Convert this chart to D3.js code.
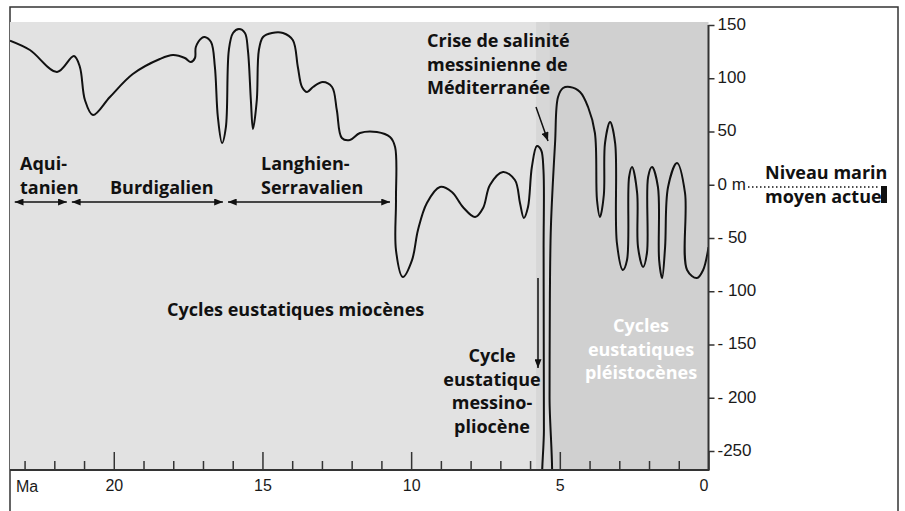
<!DOCTYPE html>
<html>
<head>
<meta charset="utf-8">
<script src="https://cdn.jsdelivr.net/npm/d3@7"></script>
<style>
body { margin: 0; background: #fff; }
svg { display: block; }
.lab { font-family: "Open Sans", sans-serif; font-weight: 700; font-size: 18px; fill: #111; }
.axis text { font-family: "Liberation Sans", Arial, sans-serif; fill: #1a1a1a; }
</style>
</head>
<body>
<svg id="chart" width="905" height="511"></svg>
<script>
// sea level curve, age in Ma and level in m relative to present
var ages = [23.49, 22.82, 21.91, 21.34, 21.14, 20.97, 20.70, 20.13, 19.36, 18.45,
    18.01, 17.61, 17.41, 17.27, 17.24, 17.04, 16.94, 16.73, 16.60, 16.50,
    16.36, 16.23, 16.13, 15.99, 15.79, 15.59, 15.49, 15.39, 15.32, 15.19,
    15.12, 14.98, 14.68, 14.31, 13.98, 13.81, 13.67, 13.50, 13.30, 12.97,
    12.66, 12.50, 12.33, 12.06, 11.72, 11.15, 10.71, 10.54, 10.51, 10.51,
    10.28, 9.97, 9.77, 9.47, 9.03, 8.63, 8.26, 7.85, 7.58, 7.35,
    6.91, 6.51, 6.34, 6.21, 6.07, 5.94, 5.77, 5.63, 5.55, 5.545,
    5.54, 5.535, 5.53, 5.35, 5.345, 5.335, 5.30, 5.16, 5.06, 4.89,
    4.66, 4.32, 4.05, 3.82, 3.75, 3.65, 3.52, 3.48, 3.31, 3.14,
    3.08, 2.88, 2.74, 2.67, 2.57, 2.40, 2.37, 2.20, 2.07, 2.03,
    1.90, 1.70, 1.66, 1.56, 1.46, 1.36, 1.06, 0.79, 0.72, 0.39,
    0.18, 0];
var levels = [135.3, 126.5, 105.9, 120.9, 110.6, 79.6, 65.5, 82.4, 104.0, 118.1,
    121.8, 119.0, 115.3, 119.0, 129.3, 137.8, 138.7, 134.0, 110.6, 63.6,
    39.2, 54.2, 126.5, 142.5, 146.2, 142.5, 126.5, 79.6, 52.3, 79.6,
    126.5, 138.7, 142.5, 142.5, 135.9, 110.6, 91.8, 87.1, 91.8, 96.5,
    91.8, 70.2, 43.9, 42.0, 48.6, 49.5, 44.8, 35.4, -14.3, -61.3,
    -86.6, -70.7, -42.5, -17.1, -2.1, -6.8, -20.9, -30.3, -21.8, -0.2,
    12.0, 4.5, -17.1, -31.2, -20.9, 16.7, 36.4, 32.6, 13.8, -60,
    -150, -230, -290, -290, -200, -108.2, -39.7, 39.2, 82.4, 90.8,
    91.8, 87.1, 73.0, 48.6, -14.3, -30.3, -9.6, 39.2, 58.9, 39.2,
    -54.7, -80.0, -70.7, 7.3, 16.7, -7.7, -58.5, -77.2, -64.1, 7.3,
    16.7, -2.1, -70.7, -87.6, -58.5, -2.1, 20.4, -7.7, -80.0, -87.6,
    -80.0, -58.5];

// stages (double arrows), in Ma
var stageStart = [23.33, 21.41, 16.16];
var stageEnd = [21.58, 16.33, 10.71];

// background bands: edges in Ma
var bandEdges = [23.49, 5.80, 5.36, 0];

var xTicks = d3.range(0, 24);
var yTicks = [150, 100, 50, 0, -50, -100, -150, -200, -250];
var yTickLabels = ['150', '100', '50', '0 m', '- 50', '- 100', '- 150', '- 200', '-250'];

var svg = d3.select('#chart');
var x = d3.scaleLinear().domain([23.49, 0]).range([10, 708.5]);
var y = d3.scaleLinear().domain([-250, 150]).range([451, 25]);
var plotTop = 22, plotBottom = 470;

// outer frame
svg.append('rect')
    .attr('x', 10).attr('y', 7).attr('width', 888).attr('height', 520)
    .attr('fill', '#fff').attr('stroke', '#333').attr('stroke-width', 1.5);

var bandFill = ['#e2e2e2', '#d7d7d7', '#d0d0d0'];
svg.selectAll('rect.band').data(bandFill).enter().append('rect')
    .attr('class', 'band')
    .attr('x', (d, i) => x(bandEdges[i]))
    .attr('width', (d, i) => x(bandEdges[i + 1]) - x(bandEdges[i]))
    .attr('y', plotTop).attr('height', plotBottom - plotTop)
    .attr('fill', d => d);

svg.append('clipPath').attr('id', 'plotclip').append('rect')
    .attr('x', x(23.49)).attr('y', plotTop)
    .attr('width', x(0) - x(23.49)).attr('height', plotBottom - plotTop);

var line = d3.line()
    .x(d => x(d[0])).y(d => y(d[1]))
    .curve(d3.curveCatmullRom.alpha(0.5));

svg.append('path')
    .datum(ages.map((a, i) => [a, levels[i]]))
    .attr('clip-path', 'url(#plotclip)')
    .attr('d', line)
    .attr('fill', 'none').attr('stroke', '#111').attr('stroke-width', 2);

// axes
var xAxis = d3.axisBottom(x).tickValues(xTicks).tickSize(-9).tickPadding(10)
    .tickFormat(d => d % 5 === 0 ? d : '');
var gx = svg.append('g').attr('class', 'axis')
    .attr('transform', 'translate(0,' + plotBottom + ')').call(xAxis);
gx.select('.domain').remove();
gx.selectAll('.tick line')
    .attr('y2', d => d % 5 === 0 ? -18 : -9)
    .attr('stroke', '#333').attr('stroke-width', 1.5);
gx.selectAll('.tick text').attr('font-size', 16)
    .attr('dx', d => d === 0 ? -5 : 0);
gx.append('text').attr('x', 16).attr('y', 21.5)
    .attr('font-size', 16).attr('text-anchor', 'start').text('Ma');

var yAxis = d3.axisRight(y).tickValues(yTicks).tickSize(6).tickPadding(3)
    .tickFormat((d, i) => yTickLabels[i]);
var gy = svg.append('g').attr('class', 'axis')
    .attr('transform', 'translate(' + x(0) + ',0)').call(yAxis);
gy.select('.domain').remove();
gy.selectAll('.tick line').attr('stroke', '#333').attr('stroke-width', 1.5);
gy.selectAll('.tick text').attr('font-size', 17).attr('dy', '0.25em');

svg.append('path')
    .attr('d', 'M' + x(23.49) + ',' + plotBottom + 'H' + x(0) + 'V' + y(150))
    .attr('fill', 'none').attr('stroke', '#333').attr('stroke-width', 2);

// arrow heads
svg.append('defs').append('marker')
    .attr('id', 'head').attr('viewBox', '0 0 10 8')
    .attr('refX', 10).attr('refY', 4)
    .attr('markerWidth', 10).attr('markerHeight', 7)
    .attr('markerUnits', 'userSpaceOnUse')
    .attr('orient', 'auto-start-reverse')
    .append('path').attr('d', 'M0,0L10,4L0,8Z').attr('fill', '#111');

svg.selectAll('line.stage').data(stageStart).enter().append('line')
    .attr('class', 'stage')
    .attr('x1', d => x(d)).attr('x2', (d, i) => x(stageEnd[i]))
    .attr('y1', 202).attr('y2', 202)
    .attr('stroke', '#111').attr('stroke-width', 1.5)
    .attr('marker-start', 'url(#head)').attr('marker-end', 'url(#head)');

svg.append('line')
    .attr('x1', 536).attr('y1', 107).attr('x2', 548).attr('y2', 141)
    .attr('stroke', '#111').attr('stroke-width', 1.5).attr('marker-end', 'url(#head)');
svg.append('line')
    .attr('x1', 538).attr('y1', 278).attr('x2', 538).attr('y2', 368)
    .attr('stroke', '#111').attr('stroke-width', 1.5).attr('marker-end', 'url(#head)');

// labels
function label(lines, px, py, anchor, color) {
    var t = svg.append('text').attr('class', 'lab')
        .attr('text-anchor', anchor || 'start');
    if (color) t.style('fill', color);
    lines.forEach(function(s, i) {
        t.append('tspan').attr('x', px).attr('y', py + i * 23.5).text(s);
    });
}
label(['Aqui-', 'tanien'], 20, 170);
label(['Burdigalien'], 110, 193.5);
label(['Langhien-', 'Serravalien'], 261, 170);
label(['Cycles eustatiques miocènes'], 167, 316);
label(['Crise de salinité', 'messinienne de', 'Méditerranée'], 427, 47);
label(['Cycle', 'eustatique', 'messino-', 'pliocène'], 492, 362, 'middle');
label(['Cycles', 'eustatiques', 'pléistocènes'], 641, 332, 'middle', '#fff');
label(['Niveau marin', 'moyen actuel'], 765, 179);

svg.append('line')
    .attr('x1', 748).attr('x2', 880).attr('y1', 187).attr('y2', 187)
    .attr('stroke', '#111').attr('stroke-width', 1.5).attr('stroke-dasharray', '1.5,2.5');
svg.append('rect').attr('x', 881).attr('y', 186).attr('width', 6).attr('height', 17).attr('fill', '#111');
</script>
</body>
</html>
